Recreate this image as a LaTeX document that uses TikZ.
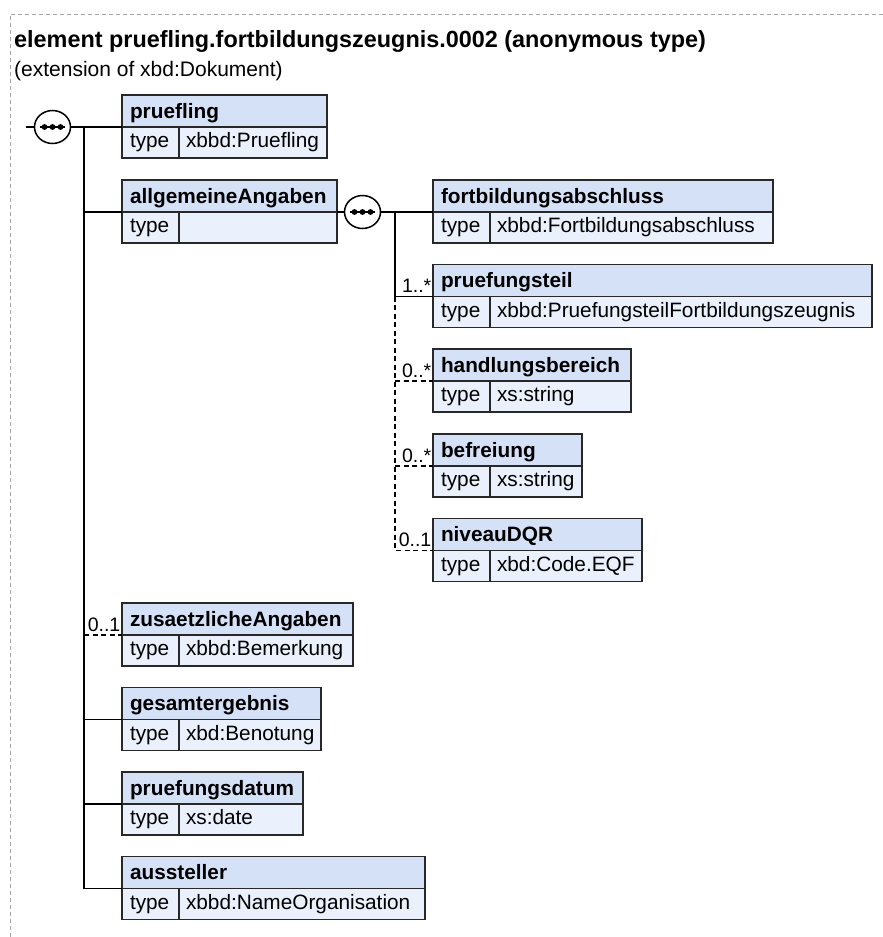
\documentclass[tikz,border=0pt]{standalone}
\usepackage{fontspec}
\setmainfont{Liberation Sans}
\usetikzlibrary{shapes.geometric}

\definecolor{hdrfill}{RGB}{213,225,247}
\definecolor{rowfill}{RGB}{234,240,252}
\definecolor{edge}{RGB}{40,40,40}
\definecolor{framegray}{RGB}{165,165,165}

\tikzset{
  cellbase/.style={draw=edge, line width=1.4pt, rectangle, anchor=north west,
    outer sep=0pt, inner ysep=0pt, align=left,
    font=\fontsize{20.8pt}{24pt}\selectfont},
  headcell/.style={cellbase, fill=hdrfill, minimum height=32pt,
    text height=16pt, text depth=2pt, inner xsep=8pt,
    font=\fontsize{20.8pt}{24pt}\selectfont\bfseries},
  labcell/.style={cellbase, fill=rowfill, minimum height=31pt,
    text height=14pt, text depth=4pt, inner xsep=8pt, text width=41pt},
  valcell/.style={cellbase, fill=rowfill, minimum height=31pt,
    text height=14pt, text depth=4pt, inner xsep=7pt},
  conn/.style={line width=1.5pt, black},
  optconn/.style={conn, dash pattern=on 5pt off 3.5pt},
  occ/.style={anchor=base east, inner sep=0pt, font=\fontsize{19.5pt}{21pt}\selectfont},
  seqbox/.style={ellipse, draw=black, line width=1.5pt, fill=white,
    minimum width=36pt, minimum height=33pt, inner sep=0pt, outer sep=0pt},
}

% element box: name, left, top, right, element name, type name
\newcommand\elembox[6]{%
  \pgfmathsetmacro\bxw{#4-#2-16}%
  \pgfmathsetmacro\bvw{#4-#2-57-14}%
  \node[headcell, text width=\bxw pt] (#1-h) at (#2,#3) {#5};
  \node[labcell] (#1-t) at (#1-h.south west) {type};
  \node[valcell, text width=\bvw pt] (#1-v) at (#1-t.north east) {#6};
}

% sequence compositor symbol
\newcommand\seqsym[3]{%
  \node[seqbox] (#1) at (#2,#3) {};
  \draw[line width=1.5pt] ([xshift=-12.5pt]#1.center) -- ([xshift=12.5pt]#1.center);
  \foreach \dx in {-8,0,8} \fill ([xshift=\dx pt]#1.center) circle (2.9pt);
}

\begin{document}
\begin{tikzpicture}[x=1pt, y=-1pt]
\useasboundingbox (0,0) rectangle (883,937);

% dashed outer frame
\draw[framegray, line width=1pt, dash pattern=on 4pt off 3pt] (883,14) -- (10,14) -- (10,937);

% heading
\node[anchor=base west, inner sep=0pt, font=\fontsize{23.4pt}{26pt}\selectfont\bfseries]
  (title) at (14,47) {element pruefling.fortbildungszeugnis.0002 (anonymous type)};
\node[anchor=base west, inner sep=0pt, font=\fontsize{21pt}{24pt}\selectfont]
  (subtitle) at (14,76) {(extension of xbd:Dokument)};

% element boxes
\elembox{prf}{122}{95}{327}{pruefling}{xbbd:Pruefling}
\elembox{allg}{122}{180}{337}{allgemeineAngaben}{}
\elembox{fab}{433}{180}{773}{fortbildungsabschluss}{xbbd:Fortbildungsabschluss}
\elembox{pst}{433}{264.5}{872}{pruefungsteil}{xbbd:PruefungsteilFortbildungszeugnis}
\elembox{hdb}{433}{349}{631}{handlungsbereich}{xs:string}
\elembox{bfr}{433}{434}{582}{befreiung}{xs:string}
\elembox{ndq}{433}{518.5}{642}{niveauDQR}{xbd:Code.EQF}
\elembox{zus}{122}{603}{353}{zusaetzlicheAngaben}{xbbd:Bemerkung}
\elembox{ges}{122}{687.5}{321}{gesamtergebnis}{xbd:Benotung}
\elembox{pdt}{122}{772}{303}{pruefungsdatum}{xs:date}
\elembox{aus}{122}{856.5}{425}{aussteller}{xbbd:NameOrganisation}

% compositors
\seqsym{s1}{52.5}{127}
\seqsym{s2}{362.5}{212}

% trunk positions
\coordinate (t1) at (84,0);
\coordinate (t2) at (395,0);
\coordinate (in) at (26,127);

% top-level sequence
\draw[conn] (in) -- (s1.west);
\draw[conn] (s1.east) -- (prf-h.south west);
\draw[conn] (t1 |- prf-h.south west) -- (t1 |- aus-h.south west);
\draw[conn] (t1 |- allg-h.south west) -- (allg-h.south west);
\draw[optconn] (t1 |- zus-h.south west) -- (zus-h.south west);
\draw[conn] (t1 |- ges-h.south west) -- (ges-h.south west);
\draw[conn] (t1 |- pdt-h.south west) -- (pdt-h.south west);
\draw[conn] (t1 |- aus-h.south west) -- (aus-h.south west);

% nested sequence of allgemeineAngaben
\draw[conn] (allg-h.south east) -- (s2.west);
\draw[conn] (s2.east) -- (fab-h.south west);
\draw[conn] (t2 |- fab-h.south west) -- (t2 |- pst-h.south west) -- (pst-h.south west);
\draw[optconn] (t2 |- pst-h.south west) -- (t2 |- ndq-h.south west) -- (ndq-h.south west);
\draw[optconn] (t2 |- hdb-h.south west) -- (hdb-h.south west);
\draw[optconn] (t2 |- bfr-h.south west) -- (bfr-h.south west);

% occurrence labels
\node[occ] (o-pst) at ([xshift=-1.5pt,yshift=4pt]pst-h.south west) {1..*};
\node[occ] (o-hdb) at ([xshift=-1.5pt,yshift=4pt]hdb-h.south west) {0..*};
\node[occ] (o-bfr) at ([xshift=-1.5pt,yshift=4pt]bfr-h.south west) {0..*};
\node[occ] (o-ndq) at ([xshift=-1.5pt,yshift=4pt]ndq-h.south west) {0..1};
\node[occ] (o-zus) at ([xshift=-1.5pt,yshift=4pt]zus-h.south west) {0..1};
\end{tikzpicture}
\end{document}
